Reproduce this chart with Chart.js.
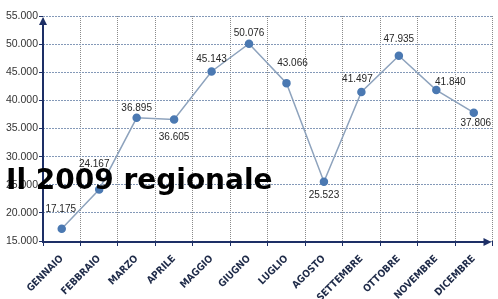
<!DOCTYPE html>
<html>
<head>
<meta charset="utf-8">
<script src="https://cdn.jsdelivr.net/npm/chart.js@4.4.0/dist/chart.umd.min.js"></script>
<style>
  body { margin: 0; background: #fff; }
  #wrap { position: relative; width: 498px; height: 299px; overflow: hidden; }
  #title {
    position: absolute; left: 6px; top: 166px;
    font: bold 28px "DejaVu Sans", sans-serif; line-height: 28px;
    color: #000; white-space: nowrap;
  }
</style>
</head>
<body>
<div id="wrap">
  <canvas id="linechart" width="498" height="299"></canvas>
  <div id="title">Il 2009 regionale</div>
</div>
<script>
const months = ['GENNAIO', 'FEBBRAIO', 'MARZO', 'APRILE', 'MAGGIO', 'GIUGNO', 'LUGLIO', 'AGOSTO', 'SETTEMBRE', 'OTTOBRE', 'NOVEMBRE', 'DICEMBRE'];
const visitors = [17175, 24167, 36895, 36605, 45143, 50076, 43066, 25523, 41497, 47935, 41840, 37806];
const yTicks = [15000, 20000, 25000, 30000, 35000, 40000, 45000, 50000, 55000];
// label nudges (dx, dy) relative to each point
const labelShift = [[-1, -20], [-5, -25], [0, -10], [0, 18], [0, -12], [0, -10], [6, -20], [0, 13], [-4, -13], [0, -16], [14, -8], [2, 11]];

function fmt(v) {
  return String(v).replace(/\B(?=(\d{3})+(?!\d))/g, '.');
}

const valueLabels = {
  id: 'valueLabels',
  afterDatasetsDraw(chart) {
    const ctx = chart.ctx;
    const meta = chart.getDatasetMeta(0);
    ctx.save();
    ctx.font = '10px "Liberation Sans", Arial, sans-serif';
    ctx.fillStyle = '#262626';
    ctx.textAlign = 'center';
    ctx.textBaseline = 'middle';
    meta.data.forEach(function(pt, i) {
      ctx.fillText(fmt(visitors[i]), pt.x + labelShift[i][0], pt.y + labelShift[i][1]);
    });
    ctx.restore();
  }
};

const arrowAxes = {
  id: 'arrowAxes',
  afterDraw(chart) {
    const ctx = chart.ctx;
    const a = chart.chartArea;
    ctx.save();
    ctx.strokeStyle = '#1d2f66';
    ctx.fillStyle = '#1d2f66';
    ctx.lineWidth = 2;
    ctx.beginPath();
    ctx.moveTo(a.left, a.bottom + 1);
    ctx.lineTo(a.left, a.top + 6);
    ctx.moveTo(a.left - 1, a.bottom + 1);
    ctx.lineTo(a.right - 8, a.bottom + 1);
    ctx.stroke();
    ctx.beginPath();
    ctx.moveTo(a.left, a.top + 1);
    ctx.lineTo(a.left - 4, a.top + 9);
    ctx.lineTo(a.left + 4, a.top + 9);
    ctx.closePath();
    ctx.fill();
    ctx.beginPath();
    ctx.moveTo(a.right - 1, a.bottom + 1);
    ctx.lineTo(a.right - 9, a.bottom - 3);
    ctx.lineTo(a.right - 9, a.bottom + 5);
    ctx.closePath();
    ctx.fill();
    ctx.restore();
  }
};

new Chart(document.getElementById('linechart'), {
  type: 'line',
  data: {
    labels: months,
    datasets: [{
      data: visitors,
      borderColor: '#8ea3bd',
      borderWidth: 1.5,
      backgroundColor: '#4b79b2',
      pointBackgroundColor: '#4b79b2',
      pointBorderColor: '#4b79b2',
      pointRadius: 3.5,
      tension: 0
    }]
  },
  options: {
    responsive: false,
    animation: false,
    layout: { padding: { top: 16, right: 0, left: 0, bottom: 0 } },
    plugins: {
      legend: { display: false },
      tooltip: { enabled: false }
    },
    scales: {
      x: {
        offset: true,
        grid: { offset: true, color: '#8a8a8a', lineWidth: 1, tickLength: 5, tickColor: '#1d2f66' },
        border: { display: false, dash: [1, 1] },
        ticks: {
          autoSkip: false,
          minRotation: 45,
          maxRotation: 45,
          padding: 7,
          color: '#1e2a48',
          font: { family: '"DejaVu Sans Condensed", "DejaVu Sans", sans-serif', size: 10, weight: 'bold' }
        },
        afterFit(scale) { scale.height = 58; }
      },
      y: {
        min: 15000,
        max: 55000,
        afterBuildTicks(scale) { scale.ticks = yTicks.map(v => ({ value: v })); },
        grid: { color: '#8499b8', lineWidth: 1, tickLength: 4, tickColor: '#1d2f66' },
        border: { display: false, dash: [2, 1] },
        ticks: {
          padding: 1,
          color: '#333',
          font: { family: '"Liberation Sans", Arial, sans-serif', size: 10.5 },
          callback: function(value) { return fmt(value); }
        },
        afterFit(scale) { scale.width = 43; }
      }
    }
  },
  plugins: [valueLabels, arrowAxes]
});
</script>
</body>
</html>
